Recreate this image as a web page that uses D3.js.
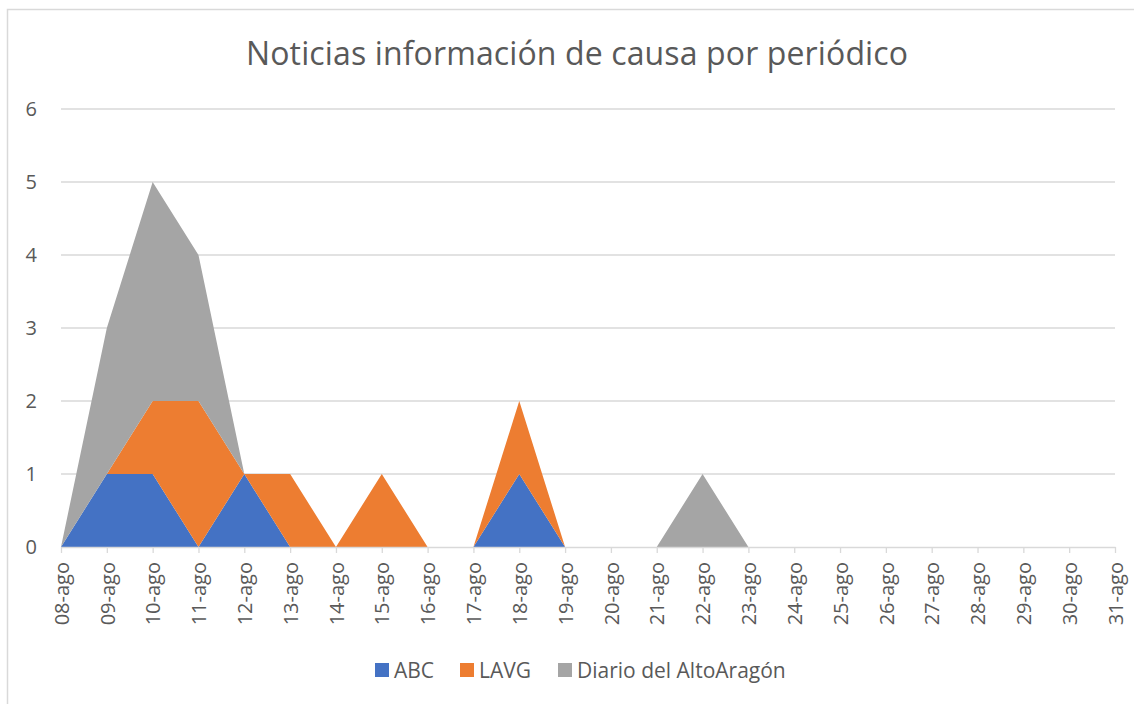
<!DOCTYPE html>
<html>
<head>
<meta charset="utf-8">
<script src="https://cdn.jsdelivr.net/npm/d3@7"></script>
<style>
  body { margin: 0; background: #fff; }
  text { font-family: "Open Sans", "Noto Sans", sans-serif; fill: #595959; }
</style>
</head>
<body>
<div id="chart"></div>
<script>
// categories
const dates = ["08-ago", "09-ago", "10-ago", "11-ago", "12-ago", "13-ago", "14-ago", "15-ago",
  "16-ago", "17-ago", "18-ago", "19-ago", "20-ago", "21-ago", "22-ago", "23-ago", "24-ago",
  "25-ago", "26-ago", "27-ago", "28-ago", "29-ago", "30-ago", "31-ago"];

// series values
const abc    = [0, 1, 1, 0, 1, 0, 0, 0, 0, 0, 1, 0, 0, 0, 0, 0, 0, 0, 0, 0, 0, 0, 0, 0];
const lavg   = [0, 0, 1, 2, 0, 1, 0, 1, 0, 0, 1, 0, 0, 0, 0, 0, 0, 0, 0, 0, 0, 0, 0, 0];
const diario = [0, 2, 3, 2, 0, 0, 0, 0, 0, 0, 0, 0, 0, 0, 1, 0, 0, 0, 0, 0, 0, 0, 0, 0];

const seriesNames = ["ABC", "LAVG", "Diario del AltoAragón"];
const colors = ["#4472C4", "#ED7D31", "#A5A5A5"];
const yTicks = [0, 1, 2, 3, 4, 5, 6];

const width = 1134, height = 704;
const margin = { left: 61, right: 19, top: 109, bottom: 157 };

const svg = d3.select("#chart").append("svg")
    .attr("width", width)
    .attr("height", height);

// chart border
svg.append("rect")
    .attr("x", 7.5).attr("y", 9.5)
    .attr("width", width + 10).attr("height", height + 10)
    .attr("fill", "none")
    .attr("stroke", "#D9D9D9")
    .attr("stroke-width", 1.5);

const x = d3.scalePoint()
    .domain(dates)
    .range([margin.left, width - margin.right]);

const y = d3.scaleLinear()
    .domain([0, 6])
    .range([height - margin.bottom, margin.top]);

// gridlines
svg.append("g")
    .selectAll("line")
    .data(yTicks.filter(d => d > 0))
    .enter().append("line")
    .attr("x1", margin.left)
    .attr("x2", width - margin.right)
    .attr("y1", d => y(d))
    .attr("y2", d => y(d))
    .attr("stroke", "#D9D9D9")
    .attr("stroke-width", 1.3);

// stacked areas
const table = dates.map((d, i) => ({ date: d, ABC: abc[i], LAVG: lavg[i], "Diario del AltoAragón": diario[i] }));
const stack = d3.stack().keys(seriesNames);
const layers = stack(table);

const area = d3.area()
    .x(d => x(d.data.date))
    .y0(d => y(d[0]))
    .y1(d => y(d[1]));

svg.append("g")
    .selectAll("path")
    .data(layers)
    .enter().append("path")
    .attr("d", area)
    .attr("fill", (d, i) => colors[i]);

// y axis labels
svg.append("g")
    .selectAll("text")
    .data(yTicks)
    .enter().append("text")
    .attr("x", 37)
    .attr("y", d => y(d))
    .attr("dy", "0.36em")
    .attr("text-anchor", "end")
    .attr("font-size", "20px")
    .text(d => d);

// x axis
const xAxis = svg.append("g")
    .attr("transform", `translate(0,${y(0)})`)
    .call(d3.axisBottom(x).tickSize(6).tickSizeOuter(0));

xAxis.select(".domain").attr("stroke", "#D9D9D9").attr("stroke-width", 1.3);
xAxis.selectAll(".tick line").attr("stroke", "#D9D9D9").attr("stroke-width", 1.3);
xAxis.selectAll(".tick text")
    .attr("font-size", "20px")
    .attr("fill", "#595959")
    .attr("transform", "rotate(-90)")
    .attr("text-anchor", "end")
    .attr("x", -15)
    .attr("y", 0)
    .attr("dy", "0.36em")
    .style("font-family", "'Open Sans', 'Noto Sans', sans-serif");

// title
svg.append("text")
    .attr("x", 577)
    .attr("y", 65)
    .attr("text-anchor", "middle")
    .attr("font-size", "32px")
    .attr("textLength", 662)
    .text("Noticias información de causa por periódico");

// legend
const legendX = [375, 460, 558];
const legend = svg.append("g")
    .selectAll("g")
    .data(seriesNames)
    .enter().append("g")
    .attr("transform", (d, i) => `translate(${legendX[i]},670)`);

legend.append("rect")
    .attr("x", 0).attr("y", -7)
    .attr("width", 14).attr("height", 14)
    .attr("fill", (d, i) => colors[i]);

legend.append("text")
    .attr("x", 19)
    .attr("dy", "0.36em")
    .attr("font-size", "21px")
    .text(d => d);
</script>
</body>
</html>
